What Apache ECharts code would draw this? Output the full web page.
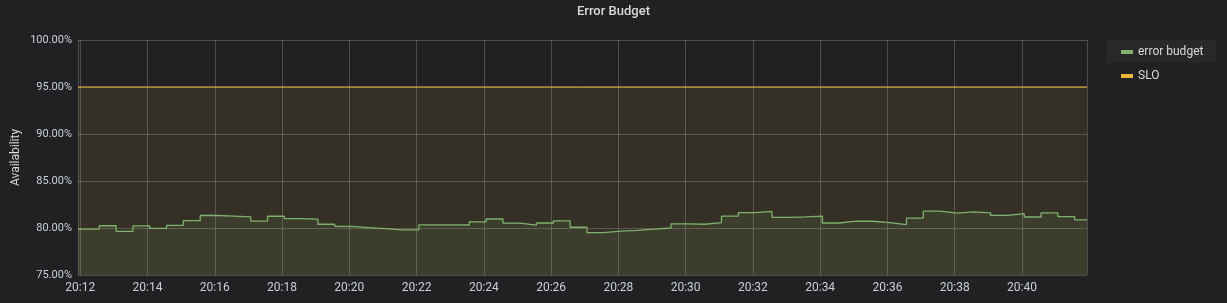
<!DOCTYPE html>
<html><head><meta charset="utf-8">
<script src="https://cdn.jsdelivr.net/npm/echarts@6/dist/echarts.min.js"></script>
<style>html,body{margin:0;padding:0;background:#212124;}#c{width:1227px;height:303px;}</style>
</head><body><div id="c"></div>
<script>
const titleText = 'Error Budget';
const yAxisName = 'Availability';
const seriesNames = ['error budget', 'SLO'];
// time window (HH, MM, SS) and sample spacing
const windowStart = [20, 11, 56];
const windowEnd = [20, 41, 56];
const firstSample = [20, 12, 4];
const sampleSeconds = 30;
// error budget availability (%), one value per 30 s sample
const budgetValues = [
  79.89, 80.24, 79.64, 80.22, 79.96, 80.27, 80.78, 81.33, 81.26, 81.18,
  80.74, 81.25, 81.00, 80.95, 80.40, 80.17, 80.05, 79.93, 79.79, 79.79,
  80.33, 80.33, 80.32, 80.65, 80.96, 80.52, 80.31, 80.53, 80.75, 80.08,
  79.50, 79.66, 79.75, 79.87, 80.00, 80.44, 80.40, 80.58, 81.26, 81.63,
  81.76, 81.13, 81.18, 81.26, 80.53, 80.74, 80.72, 80.57, 80.37, 81.06,
  81.79, 81.58, 81.71, 81.61, 81.34, 81.54, 81.17, 81.61, 81.20, 80.87
];
const sloValues = [95, 95];
const yMin = 75, yMax = 100, yStep = 5;

const t = (hms) => new Date(2020, 0, 1, hms[0], hms[1], hms[2]).getTime();
const tMin = t(windowStart), tMax = t(windowEnd), t0 = t(firstSample);

const budgetData = [[tMin, budgetValues[0]]]
  .concat(budgetValues.map((v, k) => [t0 + k * sampleSeconds * 1000, v]))
  .concat([[tMax, budgetValues[budgetValues.length - 1]]]);
const sloData = [[tMin, sloValues[0]], [tMax, sloValues[1]]];

const GREEN = '#7EB26D', YELLOW = '#EAB839';
const chart = echarts.init(document.getElementById('c'), null, {renderer: 'canvas'});
chart.setOption({
  backgroundColor: '#212124',
  animation: false,
  textStyle: {fontFamily: 'Roboto'},
  title: {
    text: titleText, left: 'center', top: 0,
    textStyle: {color: '#d8d9da', fontSize: 13, fontWeight: 500, fontFamily: 'Roboto'}
  },
  graphic: [{
    type: 'rect', left: 1106, top: 40, silent: true,
    shape: {width: 110, height: 23},
    style: {fill: '#28282b'}
  }],
  legend: {
    orient: 'vertical', left: 1116, top: 40,
    itemWidth: 12, itemHeight: 4, itemGap: 10, itemTextGap: 7,
    icon: 'rect',
    textStyle: {color: '#d8d9da', fontSize: 12, fontFamily: 'Roboto', lineHeight: 14},
    data: seriesNames
  },
  grid: {left: 78, right: 140, top: 40, bottom: 28, containLabel: false},
  xAxis: {
    type: 'time', min: tMin, max: tMax,
    splitNumber: 12,
    axisLine: {show: false}, axisTick: {show: false},
    axisLabel: {
      color: '#c7d0d9', fontSize: 12, margin: 7, fontFamily: 'Roboto',
      formatter: (v) => {
        const d = new Date(v);
        return String(d.getHours()).padStart(2, '0') + ':' + String(d.getMinutes()).padStart(2, '0');
      }
    },
    splitLine: {show: true, lineStyle: {color: 'rgba(255,255,255,0.2)', width: 1}}
  },
  yAxis: {
    type: 'value', min: yMin, max: yMax, interval: yStep,
    name: yAxisName, nameLocation: 'middle', nameGap: 56, nameRotate: 90,
    nameMoveOverlap: false,
    nameTextStyle: {color: '#d8d9da', fontSize: 12, fontFamily: 'Roboto'},
    axisLine: {show: false}, axisTick: {show: false},
    axisLabel: {color: '#c7d0d9', fontSize: 11, margin: 6, fontFamily: 'Roboto',
      formatter: (v) => v.toFixed(2) + '%'},
    splitLine: {show: true, lineStyle: {color: 'rgba(255,255,255,0.2)', width: 1}}
  },
  series: [
    {
      name: seriesNames[0], type: 'line', step: 'end', data: budgetData,
      showSymbol: false, symbol: 'none',
      lineStyle: {color: GREEN, width: 1.3},
      itemStyle: {color: GREEN},
      areaStyle: {color: GREEN, opacity: 0.1},
      z: 3
    },
    {
      name: seriesNames[1], type: 'line', data: sloData,
      showSymbol: false, symbol: 'none',
      lineStyle: {color: YELLOW, width: 1},
      itemStyle: {color: YELLOW},
      areaStyle: {color: YELLOW, opacity: 0.1},
      z: 2
    }
  ]
});
</script>
</body></html>
